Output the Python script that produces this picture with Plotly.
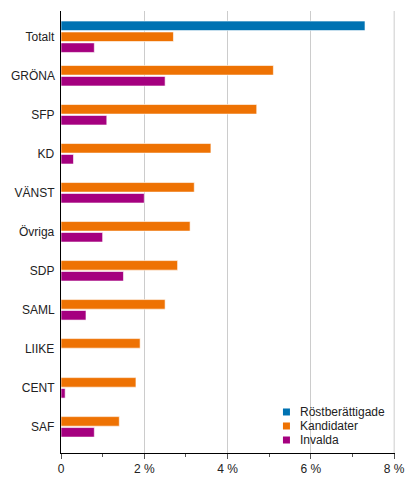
import plotly.graph_objects as go

# partier / kategorier
parties = ["Totalt", "GRÖNA", "SFP", "KD", "VÄNST", "Övriga", "SDP", "SAML", "LIIKE", "CENT", "SAF"]

# andel i procent
rostberattigade = [7.3, None, None, None, None, None, None, None, None, None, None]
kandidater = [2.7, 5.1, 4.7, 3.6, 3.2, 3.1, 2.8, 2.5, 1.9, 1.8, 1.4]
invalda = [0.8, 2.5, 1.1, 0.3, 2.0, 1.0, 1.5, 0.6, 0.0, 0.1, 0.8]

x_ticks = [0, 2, 4, 6, 8]
x_ticklabels = ["0", "2 %", "4 %", "6 %", "8 %"]

colors = ["#0072B2", "#EE7203", "#A5007F"]
names = ["Röstberättigade", "Kandidater", "Invalda"]

step = 0.28
bw = 0.245

# placera staplarna centrerat kring kategorin (tomma serier hoppas över)
series = [rostberattigade, kandidater, invalda]
offsets = [[None] * len(parties) for _ in series]
for i in range(len(parties)):
    present = [k for k, s in enumerate(series) if s[i] is not None]
    n = len(present)
    for j, k in enumerate(present):
        center = (j - (n - 1) / 2) * step
        offsets[k][i] = center - bw / 2

fig = go.Figure()
for k, s in enumerate(series):
    ys = [p for p, v in zip(parties, s) if v is not None]
    xs = [v for v in s if v is not None]
    offs = [o for o, v in zip(offsets[k], s) if v is not None]
    fig.add_trace(go.Bar(
        y=ys, x=xs, orientation="h", name=names[k], showlegend=False,
        marker=dict(color=colors[k], line=dict(color="rgba(255,255,255,0.6)", width=1)),
        offset=offs, width=bw,
    ))

# egen legend (tätare än plotlys)
leg_y = [0.0928, 0.0611, 0.0294]
for k in range(3):
    fig.add_shape(type="rect", xref="paper", yref="paper",
                  xsizemode="pixel", ysizemode="pixel",
                  xanchor=0.675, yanchor=leg_y[k],
                  x0=-3.5, x1=3.5, y0=-3.5, y1=3.5,
                  fillcolor=colors[k], line=dict(width=0))
    fig.add_annotation(x=0.7096, y=leg_y[k], xref="paper", yref="paper",
                       text=names[k], showarrow=False, xanchor="left", yanchor="middle",
                       font=dict(size=12, color="#222"))

# gridlinje vid 8 % (plotly klipper den vid kanten)
fig.add_shape(type="line", xref="x", yref="paper", x0=8, x1=8, y0=0, y1=1,
              line=dict(color="#cccccc", width=1), layer="below")

# sidan har 8px marginal i body -> figuren görs 8px mindre
fig.update_layout(
    width=408, height=483,
    margin=dict(l=53, r=21, t=3, b=38, autoexpand=False),
    plot_bgcolor="white", paper_bgcolor="white",
    barmode="overlay",
    font=dict(family="Liberation Sans, Arial, sans-serif", size=12, color="#222"),
    showlegend=False,
)
fig.update_xaxes(
    range=[0, 8.02], tickvals=x_ticks, ticktext=x_ticklabels,
    showgrid=True, gridcolor="#cccccc", gridwidth=1,
    showline=True, linecolor="#000", linewidth=1,
    ticks="outside", ticklen=5, tickcolor="#555",
    minor=dict(dtick=1, ticks="outside", ticklen=3, tickcolor="#555", showgrid=False),
    zeroline=False, fixedrange=True, automargin=False,
)
fig.update_yaxes(
    type="category", categoryorder="array", categoryarray=parties,
    range=[10.67, -0.66],
    showline=True, linecolor="#000", linewidth=1,
    ticks="", ticksuffix=" ", showgrid=False, automargin=False,
)

fig.write_html("out.html")
